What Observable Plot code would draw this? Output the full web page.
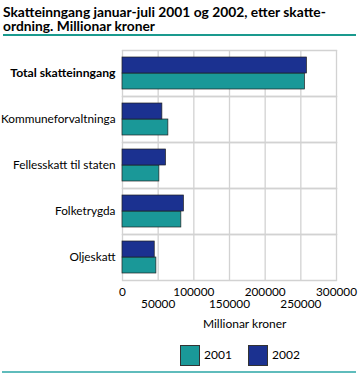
<!DOCTYPE html>
<html>
<head>
<meta charset="utf-8">
<script src="https://cdn.jsdelivr.net/npm/d3@7"></script>
<script src="https://cdn.jsdelivr.net/npm/@observablehq/plot@0.6"></script>
<style>
  html, body { margin: 0; padding: 0; background: #fff; }
  body { width: 358px; height: 374px; position: relative; overflow: hidden; font-family: Lato, sans-serif; color: #000; }
  .tl { position: absolute; left: 3px; font-size: 13.8px; font-weight: bold; line-height: 14px; white-space: nowrap; }
  #topline { position: absolute; left: 3px; top: 34px; width: 353px; height: 2px; background: #1a9a8e; }
  #chart { position: absolute; left: 0; top: 38px; }
  #xlabel { position: absolute; top: 316px; left: 244.7px; transform: translateX(-50%); font-size: 12px; white-space: nowrap; }
  .leg { position: absolute; top: 345px; width: 20px; height: 21px; border: 0.7px solid #333; box-sizing: border-box; }
  .legt { position: absolute; top: 346px; font-size: 12px; line-height: 18px; }
  #botline { position: absolute; left: 2px; top: 371px; width: 354px; height: 2px; background: #5fbcbc; }
</style>
</head>
<body>
<div class="tl" style="top:4.5px">Skatteinngang januar-juli 2001 og 2002, etter skatte-</div>
<div class="tl" style="top:19px">ordning. Millionar kroner</div>
<div id="topline"></div>
<div id="chart"></div>
<div id="xlabel">Millionar kroner</div>
<div id="legend"></div>
<div id="botline"></div>
<script>
const categories = ["Total skatteinngang", "Kommuneforvaltninga", "Fellesskatt til staten", "Folketrygda", "Oljeskatt"];
const values2001 = [255800, 64300, 51700, 82500, 47500];
const values2002 = [258600, 55900, 61000, 86100, 45200];
const years = ["2001", "2002"];
const colors = ["#1a9898", "#1b3190"];
const ticksRow1 = [0, 100000, 200000, 300000];
const ticksRow2 = [50000, 150000, 250000];
const gridTicks = [0, 50000, 100000, 150000, 200000, 250000, 300000];

const data = categories.flatMap((c, i) => [
  {category: c, year: "2001", value: values2001[i]},
  {category: c, year: "2002", value: values2002[i]}
]);

const grid = "#d2d2d2";
const chart = Plot.plot({
  width: 358,
  height: 300,
  marginTop: 10,
  marginBottom: 57,
  marginLeft: 122,
  marginRight: 22,
  style: {fontFamily: "Lato", fontSize: "11.8px", overflow: "visible", background: "transparent"},
  x: {domain: [0, 300000]},
  fy: {domain: categories, padding: 0, axis: null},
  y: {domain: ["2002", "2001"], paddingInner: 0, paddingOuter: 0.43, axis: null},
  color: {domain: years, range: colors},
  marks: [
    Plot.gridX(gridTicks, {stroke: grid, strokeOpacity: 1, strokeWidth: 1.3}),
    Plot.frame({anchor: "top", stroke: grid, strokeWidth: 1.3}),
    Plot.frame({anchor: "bottom", stroke: grid, strokeWidth: 1.3}),
    Plot.barX(data, {fy: "category", y: "year", x: "value", fill: "year", stroke: "#222", strokeWidth: 0.7}),
    Plot.text(categories.slice(0, 1), {fy: d => d, text: d => d, frameAnchor: "left", textAnchor: "end", dx: -7, fontWeight: "bold", fontSize: 12.2}),
    Plot.text(categories.slice(1), {fy: d => d, text: d => d, frameAnchor: "left", textAnchor: "end", dx: -7}),
    Plot.axisX(ticksRow1, {tickSize: 0, tickPadding: 7, label: null, tickFormat: d => String(d)}),
    Plot.axisX(ticksRow2, {tickSize: 0, tickPadding: 19.5, label: null, tickFormat: d => String(d)})
  ]
});
document.getElementById("chart").appendChild(chart);

const legend = document.getElementById("legend");
const legX = [180, 248];
years.forEach((y, i) => {
  const sw = document.createElement("div");
  sw.className = "leg";
  sw.style.left = legX[i] + "px";
  sw.style.background = colors[i];
  legend.appendChild(sw);
  const t = document.createElement("div");
  t.className = "legt";
  t.style.left = (legX[i] + 24) + "px";
  t.textContent = y;
  legend.appendChild(t);
});
</script>
</body>
</html>
